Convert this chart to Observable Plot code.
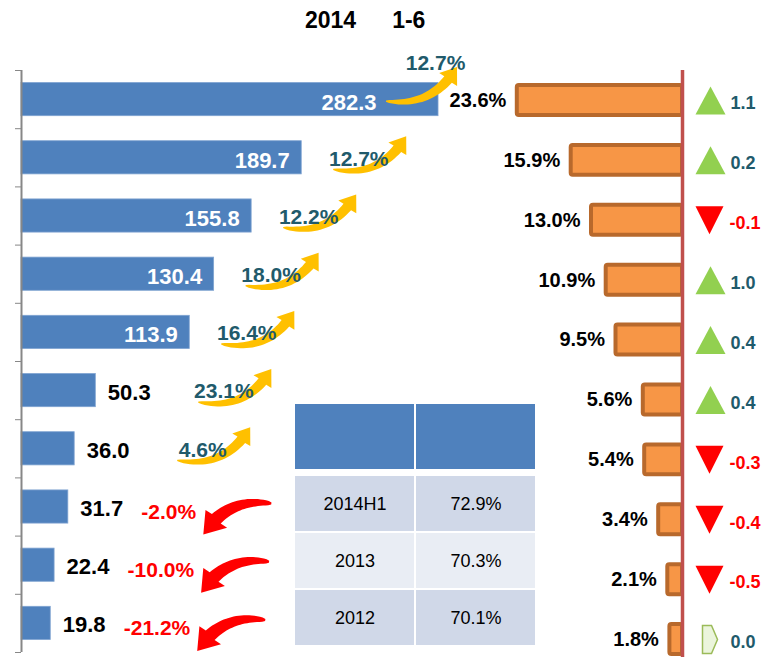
<!DOCTYPE html>
<html><head><meta charset="utf-8">
<script src="https://cdn.jsdelivr.net/npm/d3@7"></script>
<script src="https://cdn.jsdelivr.net/npm/@observablehq/plot@0.6"></script>
<style>
body{margin:0;background:#fff;font-family:"Liberation Sans",Arial,sans-serif;}
#wrap{position:relative;width:767px;height:657px;overflow:hidden;background:#fff;}
#title{position:absolute;left:305px;top:9px;height:23px;line-height:23px;font-size:23px;font-weight:bold;color:#000;white-space:nowrap;}
#title span+span{margin-left:36px;}
.layer{position:absolute;}
</style></head>
<body><div id="wrap"><div id="title"></div></div>
<script>
// ---- data ----
const titleParts = ["2014", "1-6"];
const sales = [282.3, 189.7, 155.8, 130.4, 113.9, 50.3, 36.0, 31.7, 22.4, 19.8];
const growth = [12.7, 12.7, 12.2, 18.0, 16.4, 23.1, 4.6, -2.0, -10.0, -21.2];
const share = [23.6, 15.9, 13.0, 10.9, 9.5, 5.6, 5.4, 3.4, 2.1, 1.8];
const shareChange = [1.1, 0.2, -0.1, 1.0, 0.4, 0.4, -0.3, -0.4, -0.5, 0.0];
const tableHeader = ["", ""];
const tableYears = ["2014H1", "2013", "2012"];
const tableShares = ["72.9%", "70.3%", "70.1%"];

const wrap = document.getElementById("wrap");
const title = document.getElementById("title");
titleParts.forEach(t => { const s = document.createElement("span"); s.textContent = t; title.appendChild(s); });

const rows = sales.map((s, i) => ({i, sales: s, growth: growth[i], share: share[i], change: shareChange[i]}));
const bounds = d3.range(11).map(k => k - 0.5);
const FONT = "'Liberation Sans', Arial, sans-serif";
const TEAL = "#215A6B";

function arrowPath(x0, y0, x2, y2, bend, w0, w1, headLen, headW) {
  const dx = x2 - x0, dy = y2 - y0, L = Math.hypot(dx, dy);
  const ux = dx / L, uy = dy / L, nx = -uy, ny = ux;
  const cx = (x0 + x2) / 2 + nx * bend, cy = (y0 + y2) / 2 + ny * bend;
  const P = t => [(1-t)*(1-t)*x0 + 2*(1-t)*t*cx + t*t*x2, (1-t)*(1-t)*y0 + 2*(1-t)*t*cy + t*t*y2];
  const D = t => [2*(1-t)*(cx-x0) + 2*t*(x2-cx), 2*(1-t)*(cy-y0) + 2*t*(y2-cy)];
  let tb = 1;
  for (let t = 1; t > 0; t -= 0.005) { const p = P(t); if (Math.hypot(x2-p[0], y2-p[1]) >= headLen) { tb = t; break; } }
  const N = 24, left = [], right = [];
  for (let k = 0; k <= N; k++) {
    const t = tb * k / N, p = P(t), d = D(t), dl = Math.hypot(d[0], d[1]);
    const qx = -d[1] / dl, qy = d[0] / dl, w = w0 + (w1 - w0) * Math.sqrt(k / N);
    left.push([p[0] + qx*w, p[1] + qy*w]); right.push([p[0] - qx*w, p[1] - qy*w]);
  }
  const B = P(tb), hx = x2 - B[0], hy = y2 - B[1], hl = Math.hypot(hx, hy);
  const qx = -hy / hl, qy = hx / hl;
  const pts = [...left, [B[0]+qx*headW, B[1]+qy*headW], [x2, y2], [B[0]-qx*headW, B[1]-qy*headW], ...right.reverse()];
  return "M" + pts.map(p => p[0].toFixed(1) + "," + p[1].toFixed(1)).join("L") + "Z";
}

function growthArrows(index, scales) {
  const sx = scales.x, sy = scales.y;
  const g = d3.create("svg:g");
  rows.forEach(d => {
    const bx = sx(d.sales), cy = sy(d.i);
    if (d.i === 0) {
      g.append("path").attr("d", arrowPath(bx - 52, cy + 2, bx + 19, cy - 32, 26, 0.6, 5, 15, 11)).attr("fill", "#FFC000");
    } else if (d.growth >= 0) {
      const Lx = bx + (d.i < 5 ? 57 : 128), Ly = cy + 1;
      g.append("path").attr("d", arrowPath(Lx - 25, Ly + 11, Lx + 48, Ly - 22, 28, 0.6, 5, 15, 11)).attr("fill", "#FFC000");
    } else {
      const Sx = bx + 73;
      const w = (d.growth.toFixed(1).length + 1) * 11.5;
      const tipX = Sx + w + 5;
      g.append("path").attr("d", arrowPath(tipX + 68, cy - 3, tipX, cy + 28, 24, 1, 6.5, 20, 14)).attr("fill", "#FF0000");
    }
  });
  return g.node();
}

// ---- left panel: sales bars ----
const plotA = Plot.plot({
  width: 767, height: 612,
  marginLeft: 21, marginRight: 0, marginTop: 0, marginBottom: 0,
  style: {background: "transparent", color: "#878787", fontFamily: FONT, overflow: "visible"},
  x: {domain: [0, 505], axis: null},
  y: {domain: [-0.5, 9.5], range: [25, 607], ticks: bounds, tickSize: 6, tickFormat: () => "", label: null},
  marks: [
    Plot.rect(rows, {x1: d => 0, x2: "sales", y1: d => d.i - 0.285, y2: d => d.i + 0.285, fill: "#4F81BD", stroke: "#7FA3D1", strokeWidth: 0.8}),
    Plot.ruleX([0], {y1: () => -0.5, y2: () => 9.5, stroke: "#878787", strokeWidth: 2}),
    Plot.text(rows.filter(d => d.i === 0), {x: "sales", y: "i", text: d => d.sales.toFixed(1), textAnchor: "end", dx: -62, dy: 3, fill: "#fff", fontSize: 22, fontWeight: "bold"}),
    Plot.text(rows.filter(d => d.i > 0 && d.i < 5), {x: "sales", y: "i", text: d => d.sales.toFixed(1), textAnchor: "end", dx: -12, dy: 3, fill: "#fff", fontSize: 22, fontWeight: "bold"}),
    Plot.text(rows.filter(d => d.i >= 5), {x: "sales", y: "i", text: d => d.sales.toFixed(1), textAnchor: "start", dx: 12, dy: 2, fill: "#000", fontSize: 22, fontWeight: "bold"}),
    growthArrows,
    Plot.text(rows.filter(d => d.i === 0), {x: "sales", y: "i", text: d => d.growth.toFixed(1) + "%", dx: -3, dy: -36, fill: TEAL, fontSize: 21, fontWeight: "bold"}),
    Plot.text(rows.filter(d => d.i > 0 && d.i < 5), {x: "sales", y: "i", text: d => d.growth.toFixed(1) + "%", dx: 57, dy: 1, fill: TEAL, fontSize: 21, fontWeight: "bold"}),
    Plot.text(rows.filter(d => d.i >= 5 && d.growth >= 0), {x: "sales", y: "i", text: d => d.growth.toFixed(1) + "%", dx: 128, dy: 1, fill: TEAL, fontSize: 21, fontWeight: "bold"}),
    Plot.text(rows.filter(d => d.growth < 0), {x: "sales", y: "i", text: d => d.growth.toFixed(1) + "%", textAnchor: "start", dx: 73, dy: 5, fill: "#FF0000", fontSize: 21, fontWeight: "bold"})
  ]
});
plotA.classList.add("layer"); plotA.style.left = "0px"; plotA.style.top = "45px";
wrap.appendChild(plotA);

// ---- right panel: share bars ----
const triUp = {draw(ctx) { ctx.moveTo(0, -14); ctx.lineTo(15, 14); ctx.lineTo(-15, 14); ctx.closePath(); }};
const triDown = {draw(ctx) { ctx.moveTo(0, 14); ctx.lineTo(14, -14); ctx.lineTo(-14, -14); ctx.closePath(); }};
const flat = {draw(ctx) { ctx.moveTo(-8, -14); ctx.lineTo(1, -14); ctx.lineTo(7, 0); ctx.lineTo(1, 14); ctx.lineTo(-8, 14); ctx.closePath(); }};

const plotB = Plot.plot({
  width: 767, height: 612,
  marginLeft: 0, marginRight: 0, marginTop: 0, marginBottom: 0,
  style: {background: "transparent", color: "#000", fontFamily: FONT, overflow: "visible"},
  x: {domain: [0, 30], range: [682, 472], axis: null},
  y: {domain: [-0.5, 9.5], range: [25, 624], axis: null},
  marks: [
    Plot.rect(rows, {x1: d => 0, x2: "share", y1: d => d.i - 0.25, y2: d => d.i + 0.25, fill: "#F79646", stroke: "#B8692C", strokeWidth: 4, rx: 2}),
    Plot.ruleX([0], {y1: () => -0.5, y2: () => 9.5, stroke: "#C0504D", strokeWidth: 3.5}),
    Plot.text(rows, {x: "share", y: "i", text: d => d.share.toFixed(1) + "%", textAnchor: "end", dx: -11, fill: "#000", fontSize: 20, fontWeight: "bold"}),
    Plot.dot(rows.filter(d => d.change > 0), {x: d => 0, y: "i", dx: 28, symbol: triUp, fill: "#92D050"}),
    Plot.dot(rows.filter(d => d.change < 0), {x: d => 0, y: "i", dx: 27, symbol: triDown, fill: "#FF0000"}),
    Plot.dot(rows.filter(d => d.change === 0), {x: d => 0, y: "i", dx: 28, symbol: flat, fill: "#EBF5DC", stroke: "#9BBB59", strokeWidth: 1.5}),
    Plot.text(rows.filter(d => d.change >= 0), {x: d => 0, y: "i", text: d => d.change.toFixed(1), textAnchor: "start", dx: 48, dy: 3, fill: TEAL, fontSize: 18, fontWeight: "bold"}),
    Plot.text(rows.filter(d => d.change < 0), {x: d => 0, y: "i", text: d => d.change.toFixed(1), textAnchor: "start", dx: 47, dy: 3, fill: "#FF0000", fontSize: 18, fontWeight: "bold"})
  ]
});
plotB.classList.add("layer"); plotB.style.left = "0px"; plotB.style.top = "45px";
wrap.appendChild(plotB);

// ---- table: header ----
const headCells = tableHeader.map((t, c) => ({col: c, row: "head", label: t}));
const plotH = Plot.plot({
  width: 242, height: 67, margin: 0,
  style: {background: "transparent", fontFamily: FONT},
  x: {domain: [0, 1], axis: null, padding: 0},
  y: {domain: ["head"], axis: null, padding: 0},
  marks: [
    Plot.cell(headCells, {x: "col", y: "row", fill: "#4F81BD", inset: 1}),
    Plot.text(headCells, {x: "col", y: "row", text: "label", fill: "#fff", fontSize: 18})
  ]
});
plotH.classList.add("layer"); plotH.style.left = "294px"; plotH.style.top = "403px";
wrap.appendChild(plotH);

// ---- table: body ----
const bodyCells = [];
tableYears.forEach((y, r) => {
  bodyCells.push({col: 0, row: y, r, label: y});
  bodyCells.push({col: 1, row: y, r, label: tableShares[r]});
});
const plotT = Plot.plot({
  width: 242, height: 171, margin: 0,
  style: {background: "transparent", fontFamily: FONT},
  x: {domain: [0, 1], axis: null, padding: 0},
  y: {domain: tableYears, axis: null, padding: 0},
  marks: [
    Plot.cell(bodyCells.filter(d => d.r % 2 === 0), {x: "col", y: "row", fill: "#D0D8E8", inset: 1}),
    Plot.cell(bodyCells.filter(d => d.r % 2 === 1), {x: "col", y: "row", fill: "#E9EDF4", inset: 1}),
    Plot.text(bodyCells, {x: "col", y: "row", text: "label", fill: "#000", fontSize: 18})
  ]
});
plotT.classList.add("layer"); plotT.style.left = "294px"; plotT.style.top = "475px";
wrap.appendChild(plotT);
</script>
</body></html>
